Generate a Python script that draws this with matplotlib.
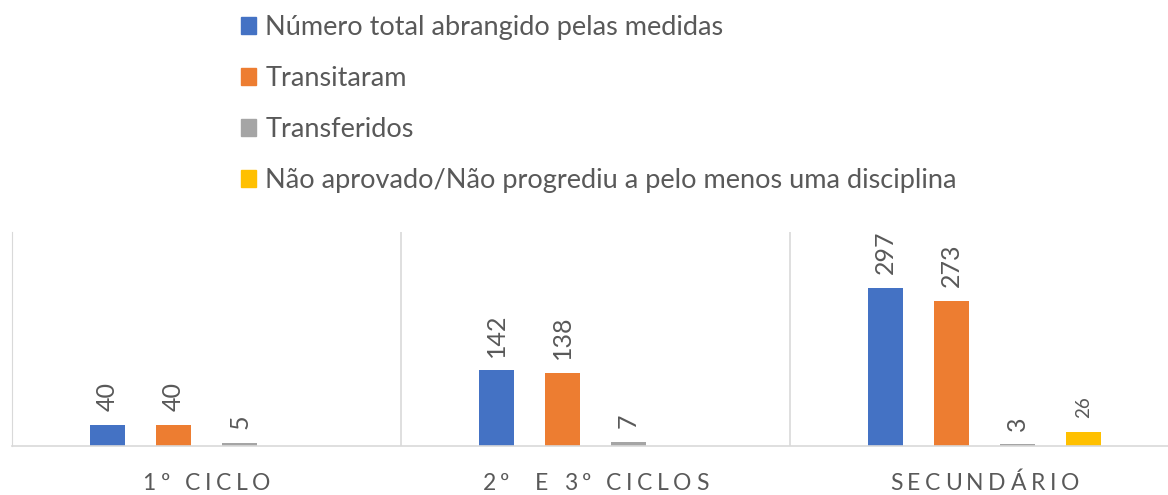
import numpy as np
import matplotlib.pyplot as plt
from matplotlib.patches import Patch
from matplotlib.transforms import ScaledTranslation

# data
categories = ['1º CICLO', '2º  E 3º CICLOS', 'SECUNDÁRIO']
series = ['Número total abrangido pelas medidas', 'Transitaram', 'Transferidos',
          'Não aprovado/Não progrediu a pelo menos uma disciplina']
total = [40, 142, 297]
transitaram = [40, 138, 273]
transferidos = [5, 7, 3]
nao_aprovado = [None, None, 26]

colors = ['#4472c4', '#ed7d31', '#a5a5a5', '#ffc000']
txt = '#595959'
plt.rcParams['font.family'] = ['Lato', 'DejaVu Sans']

fig = plt.figure(figsize=(11.68, 4.95), dpi=100)
# plot area runs a bit past the right edge, like the original
ax = fig.add_axes([12/1168, 1 - 446/495, 1167/1168, 214/495])

x = np.arange(len(categories))
step, width = 0.17, 0.09
for i, vals in enumerate([total, transitaram, transferidos, nao_aprovado]):
    for xi, v in zip(x, vals):
        if v is None:
            continue
        xb = xi + (i - 1.5) * step
        ax.bar(xb, v, width, color=colors[i])
        fs = 13.5 if i == 3 else 18
        ax.annotate(str(v), (xb, v), xytext=(0, 10), textcoords='offset points',
                    rotation=90, ha='center', va='bottom', color=txt, fontsize=fs)

ax.set_xlim(-0.5, 2.5)
ax.set_ylim(0, 402)
for s in ['top', 'right']:
    ax.spines[s].set_visible(False)
ax.spines['left'].set_color('#d9d9d9')
ax.spines['bottom'].set_color('#d9d9d9')
ax.spines['bottom'].set_linewidth(1.2)
for sep in [0.5, 1.5]:
    ax.axvline(sep, color='#d9d9d9', lw=1.2)
ax.set_yticks([])
ax.set_xticks([])

# category labels with letter spacing (drawn glyph by glyph)
renderer = fig.canvas.get_renderer()
cat_fs = 16.5
track = 4.6


def text_w(s):
    t = fig.text(0, 0, s, fontsize=cat_fs)
    w = t.get_window_extent(renderer).width
    t.remove()
    return w


bar_w = text_w('|')
for xi, lab in zip(x, categories):
    total_w = text_w(lab) + track * (len(lab) - 1)
    for k, ch in enumerate(lab):
        if ch == ' ':
            continue
        dx = -total_w / 2 + (text_w(lab[:k] + '|') - bar_w) + track * k
        tr = ax.get_xaxis_transform() + ScaledTranslation(dx / 100, -44 / 100, fig.dpi_scale_trans)
        ax.text(xi, 0, ch, transform=tr, ha='left', va='baseline',
                fontsize=cat_fs, color=txt)

handles = [Patch(color=c) for c in colors]
fig.legend(handles, series, loc='upper left', bbox_to_anchor=(241/1168, 1 - 15/495),
           frameon=False, fontsize=19.5, labelcolor=txt, handlelength=0.55,
           handleheight=0.55, handletextpad=0.35, labelspacing=0.96,
           borderpad=0, borderaxespad=0)

fig.savefig('out.png', dpi=100)
